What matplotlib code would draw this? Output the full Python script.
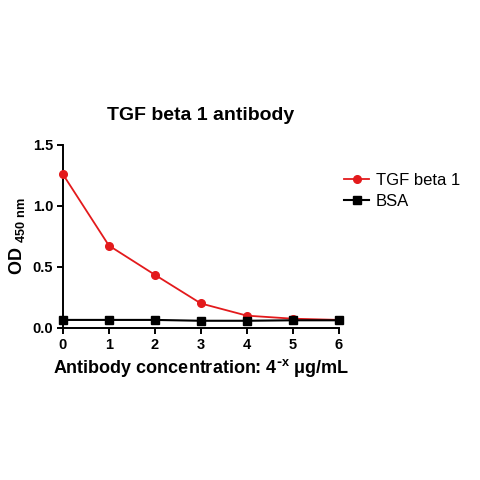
import matplotlib
matplotlib.use("Agg")
import matplotlib.pyplot as plt

plt.rcParams["font.family"] = ["Liberation Sans", "DejaVu Sans"]
plt.rcParams["font.weight"] = "bold"

dilution = [0, 1, 2, 3, 4, 5, 6]
tgf_beta1 = [1.26, 0.675, 0.435, 0.20, 0.10, 0.075, 0.065]
bsa = [0.065, 0.065, 0.065, 0.058, 0.058, 0.062, 0.062]
yticks = [0.0, 0.5, 1.0, 1.5]

fig = plt.figure(figsize=(4.8, 4.8), dpi=100)
ax = fig.add_axes([0.131, 0.317, 0.575, 0.381])

ax.plot(dilution, tgf_beta1, color="#e31a1c", marker="o", markersize=5.5,
        linewidth=1.3, label="TGF beta 1", clip_on=False, zorder=3)
ax.plot(dilution, bsa, color="black", marker="s", markersize=5.5,
        linewidth=1.5, label="BSA", clip_on=False, zorder=4)

ax.set_xlim(0, 6)
ax.set_ylim(0, 1.5)
ax.set_xticks(dilution)
ax.set_yticks(yticks)
ax.set_yticklabels([f"{v:.1f}" for v in yticks])
ax.spines["top"].set_visible(False)
ax.spines["right"].set_visible(False)
ax.spines["left"].set_linewidth(1.4)
ax.spines["bottom"].set_linewidth(1.4)
ax.tick_params(direction="out", length=4, width=1.4, labelsize=10.5, pad=3)

ax.set_title("TGF beta 1 antibody", fontsize=14, fontweight="bold", pad=18)
ax.set_ylabel(r"OD $_{\mathregular{450\ nm}}$", fontsize=13, fontweight="bold", labelpad=4)
ax.set_xlabel(r"Antibody concentration: 4$^{\mathregular{\text{-}x}}$ $\mathregular{\mu}$g/mL",
              fontsize=13, fontweight="bold", labelpad=4)

ax.legend(loc="upper left", bbox_to_anchor=(1.02, 0.845), frameon=False,
          borderaxespad=0, borderpad=0, handlelength=1.5, handletextpad=0.4,
          labelspacing=0.35, prop={"weight": "normal", "size": 12})

fig.savefig("out.png", dpi=100)
